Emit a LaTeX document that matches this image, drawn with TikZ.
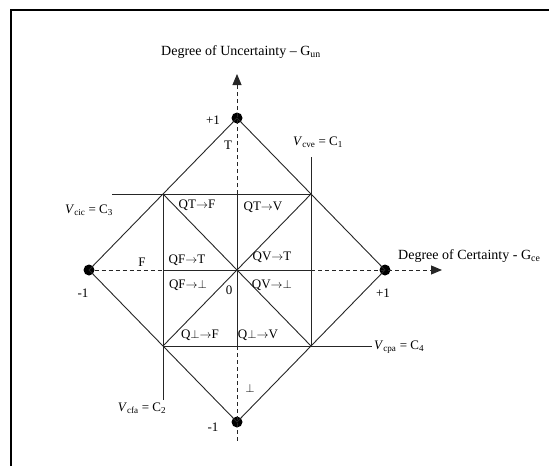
\documentclass[tikz,border=0pt]{standalone}
\usepackage{fontspec}
\setmainfont{Liberation Serif}
\usetikzlibrary{arrows.meta,positioning}

\tikzset{
  gridline/.style={black!85,line width=0.9pt},
  axisline/.style={black!85,line width=0.9pt,dash pattern=on 4pt off 3pt},
  axistip/.style={-{Triangle[length=11pt,width=9pt]}},
  vertex/.style={circle,fill=black,inner sep=0pt,minimum size=11pt},
  axistitle/.style={font=\fontsize{14}{16}\selectfont},
}

\begin{document}
\begin{tikzpicture}[x=1pt,y=-1pt,every node/.style={font=\fontsize{13}{15}\selectfont,inner sep=1pt}]
  \useasboundingbox (0,0) rectangle (549,466);
  % frame, only top and left edges show
  \draw[line width=1.2pt] (11,466) -- (11,10) -- (549,10);

  % extreme states of the lattice
  \node[vertex] (top) at (237,118) {};
  \node[vertex] (right) at (385,270) {};
  \node[vertex] (bottom) at (237,422) {};
  \node[vertex] (left) at (89,270) {};
  % limit-control corners
  \coordinate (cne) at (311,194);
  \coordinate (cnw) at (163,194);
  \coordinate (csw) at (163,346);
  \coordinate (cse) at (311,346);
  % axes crossing the inner square
  \coordinate (xin) at (163,270);
  \coordinate (xout) at (311,270);
  \coordinate (yin) at (237,194);
  \coordinate (yout) at (237,346);
  \coordinate (xend) at (442,270);
  \coordinate (yend) at (237,74);
  \coordinate (ylow) at (237,442);
  % free ends of the control lines
  \coordinate (c1end) at (311,157);
  \coordinate (c3end) at (112,194);
  \coordinate (c2end) at (163,400);
  \coordinate (c4end) at (372,346);

  % diamond
  \draw[gridline] (top.center) -- (right.center) -- (bottom.center) -- (left.center) -- cycle;
  % axes
  \draw[axisline] (left) -- (xin);
  \draw[gridline] (xin) -- (xout);
  \draw[axisline,axistip] (xout) -- (xend);
  \draw[axisline,axistip] (yin) -- (yend);
  \draw[gridline] (yin) -- (yout);
  \draw[axisline] (yout) -- (ylow);
  % control value lines
  \draw[gridline] (c3end) -- (cne);
  \draw[gridline] (c1end) -- (cse);
  \draw[gridline] (csw) -- (c4end);
  \draw[gridline] (cnw) -- (c2end);
  % diagonals
  \draw[gridline] (cnw) -- (cse);
  \draw[gridline] (cne) -- (csw);

  % axis titles
  \node[axistitle] (ytitle) at (241,52) {Degree of Uncertainty -- G\textsubscript{un}};
  \node[axistitle,anchor=west] (xtitle) at (397,256) {Degree of Certainty - G\textsubscript{ce}};
  % extreme state labels
  \node (ptop) at (213,120) {+1};
  \node (pright) at (383,293) {+1};
  \node (mleft) at (83,293) {-1};
  \node (mbottom) at (213,427) {-1};
  \node (stT) at (228,145) {T};
  \node (stF) at (142,262) {F};
  \node (stB) at (250,388) {$\perp$};
  \node (orig) at (229,290) {0};
  % non-extreme states
  \node (qtf) at (197,205) {QT$\rightarrow$F};
  \node (qtv) at (263,207) {QT$\rightarrow$V};
  \node (qft) at (187,260) {QF$\rightarrow$T};
  \node (qfb) at (188,285) {QF$\rightarrow\perp$};
  \node (qvt) at (272,257) {QV$\rightarrow$T};
  \node (qvb) at (272,285) {QV$\rightarrow\perp$};
  \node (qbf) at (200,335) {Q$\perp\rightarrow$F};
  \node (qbv) at (258,335) {Q$\perp\rightarrow$V};
  % control values
  \node (vcve) at (318,142) {\textit{V}\textsubscript{cve} = C\textsubscript{1}};
  \node (vcic) at (89,210) {\textit{V}\textsubscript{cic} = C\textsubscript{3}};
  \node[anchor=west] (vcpa) at (373,347) {\textit{V}\textsubscript{cpa} = C\textsubscript{4}};
  \node (vcfa) at (142,408) {\textit{V}\textsubscript{cfa} = C\textsubscript{2}};
\end{tikzpicture}
\end{document}
